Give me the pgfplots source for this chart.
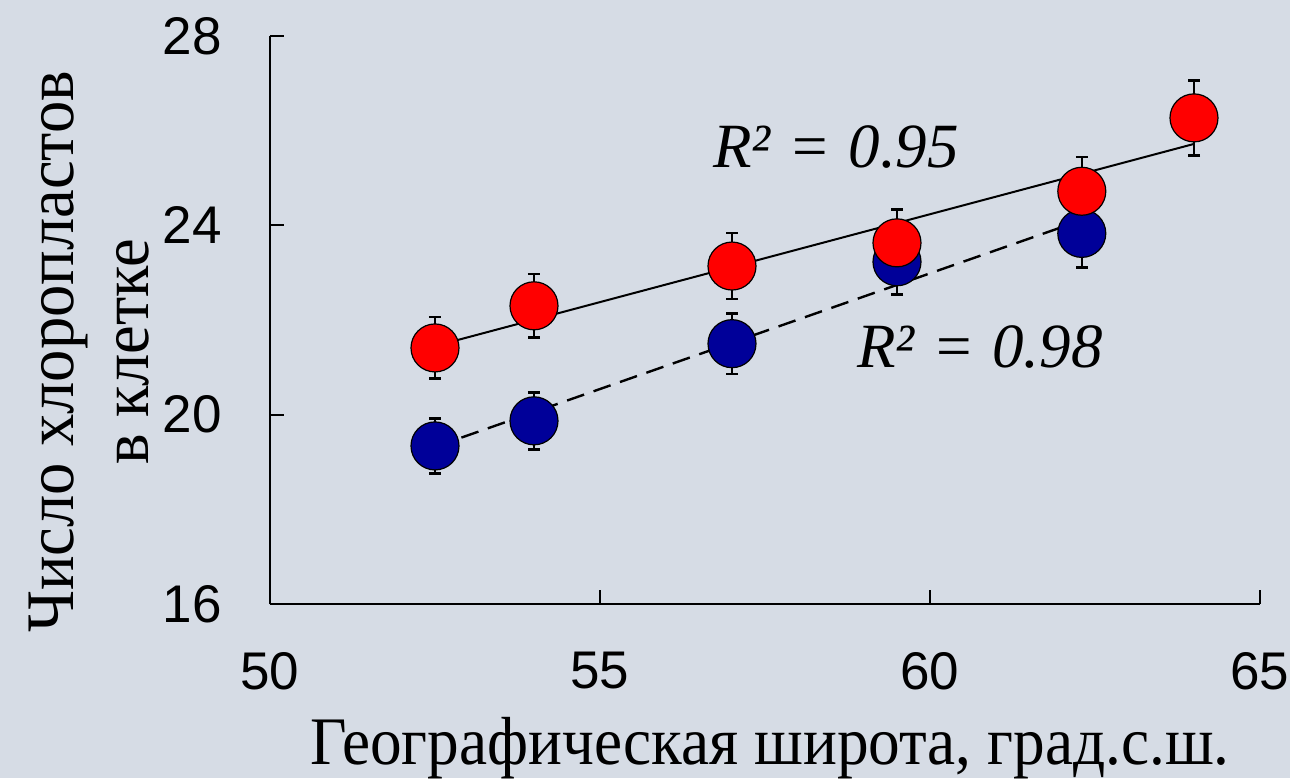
\documentclass[border=0pt]{standalone}
\usepackage{fontspec}
\setmainfont{Liberation Serif}
\newfontfamily\condserif[FakeStretch=0.93]{Liberation Serif}
\newfontfamily\condserifb[FakeStretch=0.95]{Liberation Serif}
\newfontfamily\arialfont{Liberation Sans}
\usepackage{pgfplots}
\pgfplotsset{compat=1.18}
\definecolor{bgc}{RGB}{214,220,229}
\definecolor{rpt}{RGB}{255,0,0}
\definecolor{bpt}{RGB}{0,0,153}
\begin{document}
\begin{tikzpicture}
\fill[bgc] (-135pt,-87pt) rectangle (510pt,302pt);
\useasboundingbox (-135pt,-87pt) rectangle (510pt,302pt);
\begin{axis}[
  at={(0,0)}, anchor=south west,
  scale only axis, width=495pt, height=284pt,
  xmin=50, xmax=65, ymin=16, ymax=28,
  xtick={50,55,60,65}, ytick={16,20,24,28},
  axis x line*=bottom, axis y line*=left,
  axis line style={line width=1pt, -},
  tick align=inside, major tick length=7pt,
  tick style={line width=1pt, black},
  /pgf/number format/assume math mode=true,
  ticklabel style={font=\arialfont\fontsize{26.5}{30}\selectfont},
  yticklabel style={inner sep=0pt, xshift=-24pt, anchor=east},
  xticklabel style={inner sep=0pt, yshift=-24pt, anchor=north},
  xlabel={Географическая широта, град.с.ш.},
  xlabel style={at={(axis description cs:0.505,-0.283)}, anchor=base, inner sep=0pt, font=\condserif\fontsize{34}{38}\selectfont},
  ylabel={Число хлоропластов\\в клетке},
  ylabel style={at={(axis description cs:-0.183,0.444)}, anchor=center, rotate=0, align=center, inner sep=0pt, font=\condserifb\fontsize{34}{37.5}\selectfont},
  clip=false,
]
% error bars first
\addplot[draw=none, mark=none, error bars/.cd, y dir=both, y explicit,
  error bar style={line width=1.3pt, black},
  error mark options={rotate=90, mark size=3pt, line width=1.3pt, black}]
  coordinates {(52.5,19.34) +- (0,0.58) (54,19.87) +- (0,0.60) (57,21.50) +- (0,0.64) (59.5,23.23) +- (0,0.69) (62.3,23.83) +- (0,0.72)};
\addplot[draw=none, mark=none, error bars/.cd, y dir=both, y explicit,
  error bar style={line width=1.3pt, black},
  error mark options={rotate=90, mark size=3pt, line width=1.3pt, black}]
  coordinates {(52.5,21.41) +- (0,0.65) (54,22.30) +- (0,0.67) (57,23.14) +- (0,0.70) (59.5,23.63) +- (0,0.71) (62.3,24.72) +- (0,0.72) (64,26.27) +- (0,0.79)};
% markers
\addplot[only marks, mark=*, mark size=12pt, mark options={fill=bpt, draw=black, line width=0.6pt}]
  coordinates {(52.5,19.34) (54,19.87) (57,21.50) (59.5,23.23) (62.3,23.83)};
\addplot[only marks, mark=*, mark size=12pt, mark options={fill=rpt, draw=black, line width=0.6pt}]
  coordinates {(52.5,21.41) (54,22.30) (57,23.14) (59.5,23.63) (62.3,24.72) (64,26.27)};
% trend lines
\addplot[black, line width=1pt, mark=none] coordinates {(52.5,21.45) (64,25.72)};
\addplot[black, line width=1.2pt, mark=none, dash pattern=on 9pt off 5pt] coordinates {(52.5,19.32) (62.3,24.11)};
\node[anchor=base west, inner sep=0pt, font=\fontsize{31.5}{34}\selectfont] at (axis cs:56.71,25.23) {\textit{R²}\hspace{0.33em}=\hspace{0.33em}\textit{0.95}};
\node[anchor=base west, inner sep=0pt, font=\fontsize{31.5}{34}\selectfont] at (axis cs:58.89,21.0) {\textit{R²}\hspace{0.33em}=\hspace{0.33em}\textit{0.98}};
\end{axis}
\end{tikzpicture}
\end{document}
